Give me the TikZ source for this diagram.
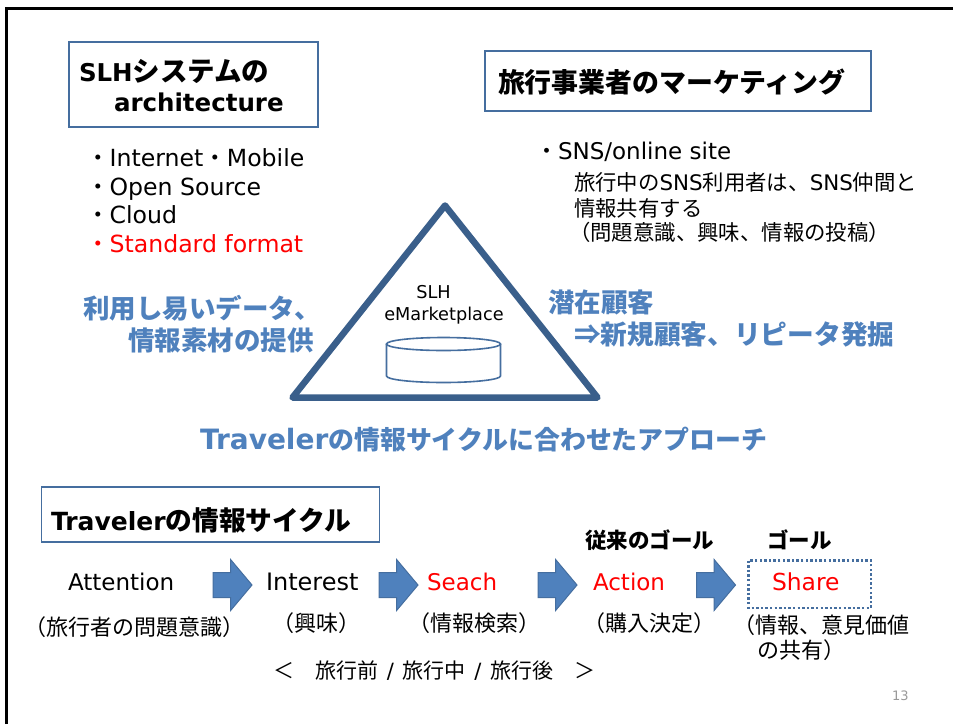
\documentclass[tikz,border=0pt]{standalone}
\usepackage{fontspec}
\setmainfont{DejaVu Sans}
\newfontfamily\cjk{Noto Sans CJK JP}
\usetikzlibrary{shapes.arrows}
\newcommand{\J}[2][]{{\ifx\relax#1\relax\else\fontsize{#1}{#1}\selectfont\fi\cjk #2}}
\definecolor{edgeblue}{HTML}{456E9F}
\definecolor{textblue}{HTML}{4F81BD}
\definecolor{triblue}{HTML}{3A5F8B}
\definecolor{numgray}{HTML}{999999}
\tikzset{
  x=1pt,y=-1pt,
  txt/.style={anchor=base west,inner sep=0pt,outer sep=0pt,font=\fontsize{#1}{#1}\selectfont},
  heading/.style={anchor=base west,inner sep=0pt,outer sep=0pt,font=\fontsize{#1}{#1}\selectfont\bfseries},
  bluehead/.style={heading=#1,text=textblue},
  titlebox/.style={draw=edgeblue,line width=1.1pt,fill=white},
  cycle arrow/.style={single arrow,draw=edgeblue,fill=textblue,line width=1pt,inner xsep=0pt,inner ysep=12pt,
    minimum height=39pt,minimum width=50pt,single arrow head extend=13pt,
    single arrow tip angle=100,single arrow head indent=0pt,anchor=west}
}
\begin{document}
\begin{tikzpicture}
\useasboundingbox (0,0) rectangle (953,724);
\fill[white] (0,0) rectangle (953,724);
\draw[black,line width=3.2pt] (6.5,724) -- (6.5,8.5) -- (953,8.5);
% title boxes
\draw[titlebox] (69,42) rectangle (318,127);
\draw[titlebox] (485,51) rectangle (871,111);
\draw[titlebox] (41.5,487) rectangle (379.5,542);
\node[heading=24.5] (t1a) at (79,81) {SLH\J[27.5]{システムの}};
\node[heading=24.5] (t1b) at (114,111.5) {architecture};
\node[heading=26.9] (t2) at (498,92) {\J{旅行事業者のマーケティング}};
\node[heading=25] (t3) at (51,530) {Traveler\J[26.7]{の情報サイクル}};
% left list
\node[txt=23.6] (l1) at (86,166) {\J{・}Internet\J{・}Mobile};
\node[txt=23.6] (l2) at (86,195) {\J{・}Open Source};
\node[txt=23.6] (l3) at (86,223) {\J{・}Cloud};
\node[txt=23.6,text=red] (l4) at (86,252) {\J{・}Standard format};
% right list
\node[txt=23] (r1) at (535,159) {\J{・}SNS/online site};
\node[txt=21.4] (r2) at (574,190) {\J{旅行中の}SNS\J{利用者は、}SNS\J{仲間と}};
\node[txt=21.4] (r3) at (574,216) {\J{情報共有する}};
\node[txt=21.4] (r4) at (569,240) {\J{（問題意識、興味、情報の投稿）}};
% triangle
\draw[triblue,line width=6.5pt,line join=round] (445,205.5) -- (597.5,397.5) -- (292.5,397.5) -- cycle;
\node[txt=17.7,anchor=base] (slh) at (433.5,298) {SLH};
\node[txt=17.7,anchor=base] (em) at (444,320) {eMarketplace};
% cylinder
\draw[edgeblue,line width=1.6pt,fill=white]
  (386.5,344) -- (386.5,376) arc[start angle=180,end angle=0,x radius=57,y radius=6.5]
  -- (500.5,344);
\draw[edgeblue,line width=1.6pt,fill=white] (443.5,344) ellipse[x radius=57,y radius=6.5];
% blue captions
\node[bluehead=26.5] (b1) at (83,318) {\J{利用し易いデータ、}};
\node[bluehead=26.5] (b2) at (128,350) {\J{情報素材の提供}};
\node[bluehead=26.5] (b3) at (548,312) {\J{潜在顧客}};
\node[bluehead=26.7] (b4) at (574,344) {\J{⇒新規顧客、リピータ発掘}};
\node[bluehead=28] (b5) at (200,449) {Traveler\J[25.9]{の情報サイクルに合わせたアプローチ}};
% cycle
\node[txt=23] (s1) at (68,590) {Attention};
\node[txt=24] (s2) at (266,590) {Interest};
\node[txt=23,text=red] (s3) at (427,590) {Seach};
\node[txt=23,text=red] (s4) at (593,590) {Action};
\draw[edgeblue,line width=2.4pt,dash pattern=on 2.4pt off 2.2pt] (748.5,560.5) rectangle (871,608);
\node[txt=23.4,text=red] (s5) at (772,590) {Share};
\node[cycle arrow] (a1) at (212.5,585) {};
\node[cycle arrow] (a2) at (378.5,585) {};
\node[cycle arrow] (a3) at (537.5,585) {};
\node[cycle arrow] (a4) at (696,585) {};
\node[heading=21.5] (g1) at (585,548) {\J{従来のゴール}};
\node[heading=21.5] (g2) at (767,548) {\J{ゴール}};
\node[txt=22] (c1) at (24,635) {\J{（旅行者の問題意識）}};
\node[txt=22] (c2) at (272,631) {\J{（興味）}};
\node[txt=22] (c3) at (408,631) {\J{（情報検索）}};
\node[txt=22] (c4) at (583,631) {\J{（購入決定）}};
\node[txt=22] (c5) at (733,633) {\J{（情報、意見価値}};
\node[txt=22] (c6) at (757,658) {\J{の共有）}};
\node[txt=21] (per) at (273,678) {\J{＜　旅行前}\hspace{8.8pt}/\hspace{8.8pt}\J{旅行中}\hspace{8.8pt}/\hspace{8.8pt}\J{旅行後　＞}};
\node[txt=13,text=numgray] (num) at (892,700) {13};
\end{tikzpicture}
\end{document}
